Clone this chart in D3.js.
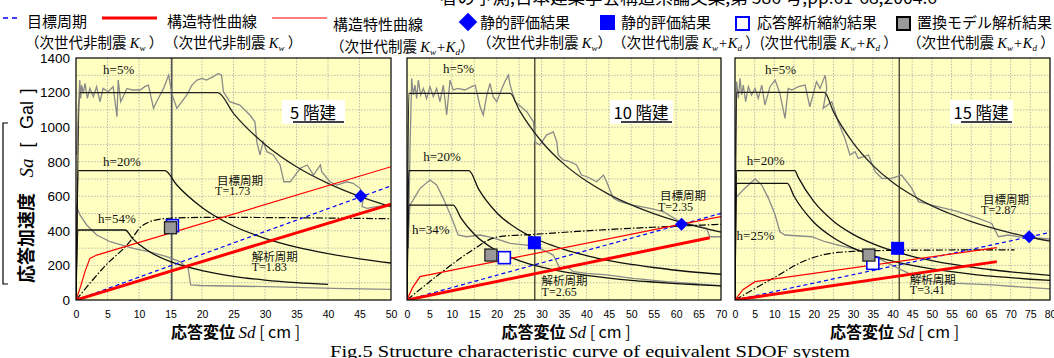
<!DOCTYPE html>
<html><head><meta charset="utf-8">
<script src="https://cdn.jsdelivr.net/npm/d3@7"></script>
<style>body{margin:0;background:#fff}svg{display:block}</style>
</head><body><svg id="c" width="1054" height="358"></svg>
<script>
// ---------------- data ----------------
const panelTitles = ["5 階建", "10 階建", "15 階建"];
const xMaxes = [50, 70, 80];
const yTickValues = [0, 200, 400, 600, 800, 1000, 1200, 1400];
const xTicks1 = [0, 5, 10, 15, 20, 25, 30, 35, 40, 45, 50];
const xTicks2 = [0, 5, 10, 15, 20, 25, 30, 35, 40, 45, 50, 55, 60, 65, 70];
const xTicks3 = [0, 5, 10, 15, 20, 25, 30, 35, 40, 45, 50, 55, 60, 65, 70, 75, 80];
const dampLabels1 = ["h=5%", "h=20%", "h=54%"];
const dampLabels2 = ["h=5%", "h=20%", "h=34%"];
const dampLabels3 = ["h=5%", "h=20%", "h=25%"];
const targetPeriods = ["T=1.73", "T=2.35", "T=2.87"];
const analysisPeriods = ["T=1.83", "T=2.65", "T=3.41"];

// panel 1 (5 storeys) [Sd cm, Sa Gal]
const specA1 = [[0,0],[0.6,1200],[22.5,1200],[25,1080],[30,900],[35,771],[40,675],[45,600],[50,540]];
const specB1 = [[0,0],[0.4,748],[14.1,748],[16,665],[20,535],[25,428],[30,357],[35,306],[40,268],[45,238],[50,214]];
const specC1 = [[0,0],[0.3,405],[7.8,405],[9,355],[10,322],[12,272],[15,222],[20,170],[25,137],[30,115],[35,100],[40,90]];
const obsA1 = [[0.1,839],[0.4,1128],[0.6,1272],[0.75,1166],[0.9,1243],[1.16,1195],[1.43,1253],[1.8,1166],[2.2,1224],[2.75,1176],[3.27,1234],[3.8,1147],[4.3,1224],[5.1,1205],[5.9,1234],[6.5,1060],[6.7,1272],[7.1,1147],[8.1,1224],[8.9,1215],[10.2,1215],[10.9,1234],[11.5,1243],[12.3,1109],[12.8,1147],[13.9,1224],[14.7,1301],[15.2,1195],[16.0,1109],[17.6,1186],[18.4,1243],[19.2,1272],[20.0,1282],[20.7,1272],[21.8,1292],[22.6,1311],[23.1,1301],[23.4,1205],[24.4,1147],[26.0,1128],[27.6,1070],[28.4,1031],[28.7,916],[29.2,839],[29.7,916],[30.3,858],[31.3,839],[32.4,781],[33.0,684],[34.0,684],[35.6,762],[36.7,781],[37.7,723],[38.8,781],[39.0,742],[40.3,684],[41.4,665],[43.0,684],[44.0,675],[45.1,646],[45.6,588],[45.4,540],[46.2,530],[47.7,540],[50,549]];
const obsB1 = [[0,549],[0.63,492],[1.7,434],[3.3,376],[5.4,337],[9.1,299],[11.7,279],[14.4,251],[16.5,222],[17.8,183],[18.2,87],[19.7,84],[30.3,77],[40.8,67],[50,62]];
const capThick1 = [[0,0],[50,555]];
const capThin1 = [[0,0],[0.63,67],[1.43,164],[2.2,241],[3.3,260],[50,771]];
const target1 = [[0,0],[50,660]];
const subModel1 = [[0,0],[4.7,200],[8.6,340],[10.2,420],[11.5,450],[13,465],[16,475],[22,478],[50,470]];
const staticKw1 = [[45.2,601]];
const staticKwKd1 = [];
const reduced1 = [[15.3,430]];
const replaced1 = [[15.0,418]];
const vline1 = 15.2;

// panel 2 (10 storeys)
const specA2 = [[0,0],[0.4,1195],[23,1195],[25,1100],[30,917],[35,786],[40,688],[45,611],[50,550],[55,500],[60,458],[65,423],[70,393]];
const specB2 = [[0,0],[0.4,748],[13.8,748],[16,640],[20,505],[25,405],[30,340],[35,293],[40,257],[45,228],[50,206],[55,188],[60,172],[65,159],[70,149]];
const specC2 = [[0,0],[0.4,549],[10.3,549],[12,475],[15,380],[20,285],[25,228],[30,190],[35,163],[40,143],[45,127],[50,114],[55,104],[60,95],[65,88],[70,82]];
const obsA2 = [[0.3,300],[0.67,877],[1.04,1282],[1.41,1186],[1.78,1243],[2.15,1166],[2.53,1272],[3.05,1186],[3.64,1224],[4.38,1166],[5.13,1234],[5.87,1176],[6.61,1224],[7.36,1147],[8.1,1243],[8.84,1070],[9.59,1272],[10.3,1215],[11.4,1224],[12.9,1215],[14.4,1234],[15.2,1243],[16.3,1118],[17.0,1070],[17.8,1186],[18.5,1253],[19.2,1176],[20.0,1147],[20.7,1195],[21.8,1263],[22.6,1301],[23.0,1243],[24.1,1147],[26.7,1089],[28.2,1031],[28.5,916],[29.6,896],[31.1,954],[32.6,973],[33.4,916],[33.7,839],[34.8,810],[36.3,800],[37.8,781],[38.9,723],[40.1,713],[42.3,684],[43.8,723],[44.5,684],[46.0,588],[47.5,569],[50.4,549],[54.2,530],[57.1,511],[60.9,453],[63.8,434],[66.8,415],[67.5,366],[70,366]];
const obsB2 = [[0,300],[0.67,549],[2.9,646],[5.13,694],[6.6,665],[8.1,588],[10.3,453],[11.4,376],[13.3,366],[16.3,376],[19.2,360],[23.0,328],[26.7,318],[29.6,299],[32.6,260],[34.1,183],[35.6,193],[37.1,164],[40.1,154],[44.5,145],[50.4,125],[57.9,106],[70,83]];
const capThick2 = [[0,0],[67.5,360]];
const capThin2 = [[0,0],[1.2,70],[2.9,135],[61.2,439],[70,482]];
const target2 = [[0,0],[70,501]];
const subModel2 = [[0,0],[16.3,318],[18,345],[20.7,367],[28.5,380],[43,405],[61,428],[70,438]];
const staticKw2 = [[61.2,438]];
const staticKwKd2 = [[28.4,331]];
const reduced2 = [[21.7,245]];
const replaced2 = [[18.7,260]];
const vline2 = 28.5;

// panel 3 (15 storeys)
const specA3 = [[0,0],[0.4,1201],[22.7,1201],[25,1090],[30,909],[35,779],[40,681],[45,606],[50,545],[55,496],[60,454],[65,419],[70,389],[75,363],[80,341]];
const specB3 = [[0,0],[0.4,748],[15.2,748],[16,712],[20,570],[25,456],[30,380],[35,326],[40,285],[45,253],[50,228],[55,207],[60,190],[65,175],[70,163],[75,152],[80,143]];
const specC3 = [[0,0],[0.4,675],[13.3,675],[15,600],[20,450],[25,360],[30,300],[35,257],[40,225],[45,200],[50,180],[55,164],[60,150],[65,138],[70,129],[75,120],[80,113]];
const obsA3 = [[0.1,839],[0.42,1263],[0.85,1166],[1.27,1282],[1.69,1186],[2.1,1243],[2.7,1147],[3.4,1234],[4.2,1186],[5.1,1224],[5.9,1166],[6.8,1243],[7.6,1128],[8.9,1234],[10.2,1272],[11.4,1195],[12.7,1051],[13.5,1224],[14.4,1215],[16.1,1234],[17.8,1243],[19.0,1118],[20.7,1263],[21.6,1224],[22.9,1301],[23.3,1224],[22.4,1109],[24.6,1147],[26.2,1031],[27.9,935],[29.2,839],[30.5,858],[31.3,819],[33.9,839],[35.6,742],[37.3,704],[39.8,704],[42.3,723],[44.9,646],[46.6,569],[50,549],[56.7,511],[61.8,472],[65.2,443],[66.9,366],[69.4,376],[72,366],[80,353]];
const obsB3 = [[0,588],[2.5,646],[5.1,700],[6.8,665],[8.5,588],[10.2,492],[11.4,395],[12.7,376],[19.5,366],[22.9,337],[26.2,318],[29.6,299],[33.0,280],[36.4,241],[41.5,183],[44.9,145],[50,106],[56.7,96],[65.2,87],[80,64]];
const capThick3 = [[0,0],[66.5,222]];
const capThin3 = [[0,0],[2,60],[5.1,106],[66.5,303]];
const target3 = [[0,0],[80,391]];
const subModel3 = [[0,0],[10,130],[18,230],[22.9,264],[26,275],[35,285],[50,289],[71,290]];
const staticKw3 = [[74.7,366]];
const staticKwKd3 = [[41.3,299]];
const reduced3 = [[35.0,212]];
const replaced3 = [[34.0,260]];
const vline3 = 41.7;

// ---------------- drawing ----------------
const svg = d3.select("#c");
svg.append("rect").attr("width",1054).attr("height",358).attr("fill","#fff");
const JP = "'Noto Sans CJK JP','Noto Sans',sans-serif";
const SERIF = "'Liberation Serif','DejaVu Serif',serif";
const SANS = "'Liberation Sans',Arial,sans-serif";

const panels = [
  {left:76, right:391, xMax:xMaxes[0], xTicks:xTicks1, specs:[specA1,specB1,specC1], obs:[obsA1,obsB1], thick:capThick1, thin:capThin1, target:target1, sub:subModel1, kw:staticKw1, kwkd:staticKwKd1, red:reduced1, rep:replaced1, vline:vline1, damp:dampLabels1,
   ann:{h:[[4.3,1307],[4.3,775],[3.5,447]], tgt:[22.4,668], ana:[27.9,228]}, title:[313,113], vcol:"#555", vw:1.6},
  {left:407, right:721, xMax:xMaxes[1], xTicks:xTicks2, specs:[specA2,specB2,specC2], obs:[obsA2,obsB2], thick:capThick2, thin:capThin2, target:target2, sub:subModel2, kw:staticKw2, kwkd:staticKwKd2, red:reduced2, rep:replaced2, vline:vline2, damp:dampLabels2,
   ann:{h:[[8.0,1313],[3.6,804],[1.1,382]], tgt:[56.4,578], ana:[30.0,85]}, title:[641,113], vcol:"#000", vw:1},
  {left:735, right:1050, xMax:xMaxes[2], xTicks:xTicks3, specs:[specA3,specB3,specC3], obs:[obsA3,obsB3], thick:capThick3, thin:capThin3, target:target3, sub:subModel3, kw:staticKw3, kwkd:staticKwKd3, red:reduced3, rep:replaced3, vline:vline3, damp:dampLabels3,
   ann:{h:[[7.6,1307],[3.0,781],[0.4,347]], tgt:[63,558], ana:[44.4,95]}, title:[981,113], vcol:"#000", vw:1}
];
const TOP = 58, BOT = 300;

panels.forEach((p, i) => {
  const x = d3.scaleLinear().domain([0, p.xMax]).range([p.left, p.right]);
  const y = d3.scaleLinear().domain([0, 1400]).range([BOT, TOP]);
  const g = svg.append("g");
  const cid = "clip" + i;
  g.append("clipPath").attr("id", cid).append("rect")
    .attr("x", p.left).attr("y", TOP).attr("width", p.right - p.left).attr("height", BOT - TOP);
  g.append("rect").attr("x", p.left).attr("y", TOP).attr("width", p.right - p.left).attr("height", BOT - TOP)
    .attr("fill", "#FFFFC2");
  const grid = g.append("g").attr("stroke", "#a8a8a8").attr("stroke-width", 0.8).attr("stroke-dasharray", "1.5,1.5");
  p.xTicks.slice(1, -1).forEach(v => grid.append("line").attr("x1", x(v)).attr("x2", x(v)).attr("y1", TOP).attr("y2", BOT));
  d3.range(100, 1400, 100).forEach(v => grid.append("line").attr("x1", p.left).attr("x2", p.right).attr("y1", y(v)).attr("y2", y(v)));

  const c = g.append("g").attr("clip-path", `url(#${cid})`);
  const line = d3.line().x(d => x(d[0])).y(d => y(d[1]));
  const smooth = d3.line().x(d => x(d[0])).y(d => y(d[1])).curve(d3.curveMonotoneX);

  c.append("line").attr("x1", x(p.vline)).attr("x2", x(p.vline)).attr("y1", TOP).attr("y2", BOT)
    .attr("stroke", p.vcol).attr("stroke-width", p.vw);
  p.obs.forEach(d => c.append("path").attr("d", line(d)).attr("fill", "none").attr("stroke", "#8a8a8a").attr("stroke-width", 1.3));
  p.specs.forEach((d, k) => c.append("path").attr("d", smooth(d)).attr("fill", "none")
    .attr("stroke", k === 0 ? "#222" : "#111").attr("stroke-width", 1.3));
  c.append("path").attr("d", smooth(p.sub)).attr("fill", "none").attr("stroke", "#000").attr("stroke-width", 1.2)
    .attr("stroke-dasharray", "7,2,1.5,2");
  c.append("path").attr("d", line(p.target)).attr("fill", "none").attr("stroke", "#0000ff").attr("stroke-width", 1.2)
    .attr("stroke-dasharray", "4,3");
  c.append("path").attr("d", line(p.thin)).attr("fill", "none").attr("stroke", "#ff0000").attr("stroke-width", 1.2);
  c.append("path").attr("d", line(p.thick)).attr("fill", "none").attr("stroke", "#ff0000").attr("stroke-width", 3);

  const mk = g.append("g");
  p.red.forEach(d => mk.append("rect").attr("x", x(d[0]) - 6).attr("y", y(d[1]) - 6).attr("width", 12).attr("height", 12)
    .attr("fill", "#fff").attr("stroke", "#0000ff").attr("stroke-width", 1.6));
  p.rep.forEach(d => mk.append("rect").attr("x", x(d[0]) - 6).attr("y", y(d[1]) - 6).attr("width", 12).attr("height", 12)
    .attr("fill", "#999").attr("stroke", "#222").attr("stroke-width", 1.3));
  p.kwkd.forEach(d => mk.append("rect").attr("x", x(d[0]) - 6.5).attr("y", y(d[1]) - 6.5).attr("width", 13).attr("height", 13)
    .attr("fill", "#0000ff"));
  p.kw.forEach(d => mk.append("path").attr("d", d3.symbol(d3.symbolDiamond2, 110)())
    .attr("transform", `translate(${x(d[0])},${y(d[1])})`).attr("fill", "#0000ff"));

  const ta = g.append("g").attr("font-family", SERIF).attr("font-size", 13).attr("fill", "#111");
  p.damp.forEach((t, k) => ta.append("text").attr("x", x(p.ann.h[k][0])).attr("y", y(p.ann.h[k][1])).text(t));
  const tg = g.append("g").attr("fill", "#111");
  tg.append("text").attr("x", x(p.ann.tgt[0])).attr("y", y(p.ann.tgt[1])).attr("font-family", JP).attr("font-size", 11.5).text("目標周期");
  tg.append("text").attr("x", x(p.ann.tgt[0]) - 2).attr("y", y(p.ann.tgt[1]) + 10.5).attr("font-family", SERIF).attr("font-size", 12).text(targetPeriods[i]);
  tg.append("text").attr("x", x(p.ann.ana[0])).attr("y", y(p.ann.ana[1])).attr("font-family", JP).attr("font-size", 11.5).text("解析周期");
  tg.append("text").attr("x", x(p.ann.ana[0])).attr("y", y(p.ann.ana[1]) + 10.5).attr("font-family", SERIF).attr("font-size", 12).text(analysisPeriods[i]);

  const tb = g.append("g");
  tb.append("rect").attr("x", p.title[0] - 31).attr("y", 100).attr("width", 63).attr("height", 24).attr("fill", "#fff");
  tb.append("text").attr("x", p.title[0]).attr("y", 119).attr("text-anchor", "middle").attr("font-family", JP)
    .attr("font-size", 16.5).attr("fill", "#000").text(panelTitles[i]);
  tb.append("line").attr("x1", p.title[0] - 20).attr("x2", p.title[0] + 31).attr("y1", 122).attr("y2", 122).attr("stroke", "#000").attr("stroke-width", 1.3);

  g.append("rect").attr("x", p.left).attr("y", TOP).attr("width", p.right - p.left).attr("height", BOT - TOP)
    .attr("fill", "none").attr("stroke", "#000").attr("stroke-width", 1.2);

  const xa = g.append("g").attr("transform", `translate(0,${BOT + 11})`)
    .call(d3.axisBottom(x).tickValues(p.xTicks).tickSize(0).tickPadding(0));
  xa.select(".domain").remove();
  xa.selectAll("text").attr("font-family", "'Liberation Sans Narrow','Liberation Sans',sans-serif").attr("font-size", 10.5).attr("fill", "#000");

  if (i === 0) {
    const ya = g.append("g").attr("transform", `translate(${p.left - 6},0)`)
      .call(d3.axisLeft(y).tickValues(yTickValues).tickFormat(d3.format("d")).tickSize(0).tickPadding(0));
    ya.select(".domain").remove();
    ya.selectAll("text").attr("font-family", SANS).attr("font-size", 13.5).attr("fill", "#000");
  }

  const xl = svg.append("text").attr("x", (p.left + p.right) / 2 + 2).attr("y", 338).attr("text-anchor", "middle")
    .attr("font-size", 16).attr("fill", "#000");
  xl.append("tspan").attr("font-family", JP).attr("font-weight", "bold").text("応答変位 ");
  xl.append("tspan").attr("font-family", SERIF).attr("font-style", "italic").attr("font-size", 17).text(" Sd");
  xl.append("tspan").attr("font-family", JP).text(" [ cm ]");
});

// y axis label (rotated pieces)
const yg = svg.append("g").attr("fill", "#000");
function rot(txt, cy, fam, size, extra) {
  const t = yg.append("text").attr("transform", `translate(33,${cy}) rotate(-90)`).attr("text-anchor", "middle")
    .attr("font-family", fam).attr("font-size", size).text(txt);
  if (extra) extra(t);
}
rot("応答加速度", 238, JP, 18, t => t.attr("font-weight", "bold"));
rot("Sa", 168, SERIF, 19, t => t.attr("font-style", "italic"));
rot("[", 145, SANS, 18);
rot("Gal", 115, SANS, 18);
rot("]", 91, SANS, 18);
svg.append("path").attr("d", "M8,123 H3 V284 H8").attr("fill", "none").attr("stroke", "#000").attr("stroke-width", 1.2);

// header (cut at top) and caption (cut at bottom)
svg.append("text").attr("x", 440).attr("y", 3.5).attr("font-family", JP)
  .attr("font-size", 17).attr("textLength", 497).attr("lengthAdjust", "spacingAndGlyphs").attr("fill", "#000")
  .text("者の予測,日本建築学会構造系論文集,第 586 号,pp.61-68,2004.6");
svg.append("text").attr("x", 330).attr("y", 356.5).attr("font-family", SERIF)
  .attr("font-size", 16).attr("textLength", 520).attr("lengthAdjust", "spacingAndGlyphs").attr("fill", "#000")
  .text("Fig.5 Structure characteristic curve of equivalent SDOF system");

// legend
const lg = svg.append("g").attr("font-family", JP).attr("font-size", 15).attr("fill", "#000");
lg.append("line").attr("x1", 3).attr("x2", 20).attr("y1", 18).attr("y2", 18).attr("stroke", "#0000ff").attr("stroke-width", 1.3).attr("stroke-dasharray", "5,4");
lg.append("text").attr("x", 27).attr("y", 27).text("目標周期");
lg.append("line").attr("x1", 102).attr("x2", 157).attr("y1", 18).attr("y2", 18).attr("stroke", "#ff0000").attr("stroke-width", 3);
lg.append("text").attr("x", 167).attr("y", 27).text("構造特性曲線");
lg.append("line").attr("x1", 272).attr("x2", 327).attr("y1", 18).attr("y2", 18).attr("stroke", "#ff0000").attr("stroke-width", 1.2);
lg.append("text").attr("x", 333).attr("y", 30).text("構造特性曲線");
lg.append("path").attr("d", d3.symbol(d3.symbolDiamond2, 220)()).attr("transform", "translate(468,22)").attr("fill", "#0000ff");
lg.append("text").attr("x", 480).attr("y", 28).text("静的評価結果");
lg.append("rect").attr("x", 600).attr("y", 15).attr("width", 15).attr("height", 15).attr("fill", "#0000ff");
lg.append("text").attr("x", 621).attr("y", 28).text("静的評価結果");
lg.append("rect").attr("x", 736).attr("y", 17).attr("width", 13).attr("height", 13).attr("fill", "#fff").attr("stroke", "#0000ff").attr("stroke-width", 2);
lg.append("text").attr("x", 757).attr("y", 28).text("応答解析縮約結果");
lg.append("rect").attr("x", 897).attr("y", 17).attr("width", 13).attr("height", 13).attr("fill", "#999").attr("stroke", "#000").attr("stroke-width", 2);
lg.append("text").attr("x", 917).attr("y", 28).text("置換モデル解析結果");

const lg2 = svg.append("g").attr("font-family", JP).attr("font-size", 14.5).attr("fill", "#000");
function sub(x, yy, parts) {
  const t = lg2.append("text").attr("x", x).attr("y", yy);
  parts.forEach(pt => {
    const s = t.append("tspan").text(pt[0]);
    if (pt[1]) s.attr("font-family", SERIF).attr("font-style", "italic");
    if (pt[2]) s.attr("font-size", 9);
    if (pt[3]) s.attr("dy", pt[3]);
  });
}
sub(25, 48, [["（次世代非制震 "], ["K", 1], ["w", 1, 1, 3], [" ）", 0, 0, -3]]);
sub(164, 48, [["（次世代非制震 "], ["K", 1], ["w", 1, 1, 3], [" ）", 0, 0, -3]]);
sub(330, 52, [["（次世代制震 "], ["K", 1], ["w", 1, 1, 3], ["+", 1, 0, -3], ["K", 1], ["d", 1, 1, 3], ["）", 0, 0, -3]]);
sub(477, 48, [["（次世代非制震 "], ["K", 1], ["w", 1, 1, 3], ["）", 0, 0, -3]]);
sub(612, 48, [["（次世代制震 "], ["K", 1], ["w", 1, 1, 3], ["+", 1, 0, -3], ["K", 1], ["d", 1, 1, 3], [" ）(次世代制震 ", 0, 0, -3], ["K", 1], ["w", 1, 1, 3], ["+", 1, 0, -3], ["K", 1], ["d", 1, 1, 3], [" ）", 0, 0, -3]]);
sub(907, 48, [["（次世代制震 "], ["K", 1], ["w", 1, 1, 3], ["+", 1, 0, -3], ["K", 1], ["d", 1, 1, 3], [" ）", 0, 0, -3]]);
</script></body></html>
